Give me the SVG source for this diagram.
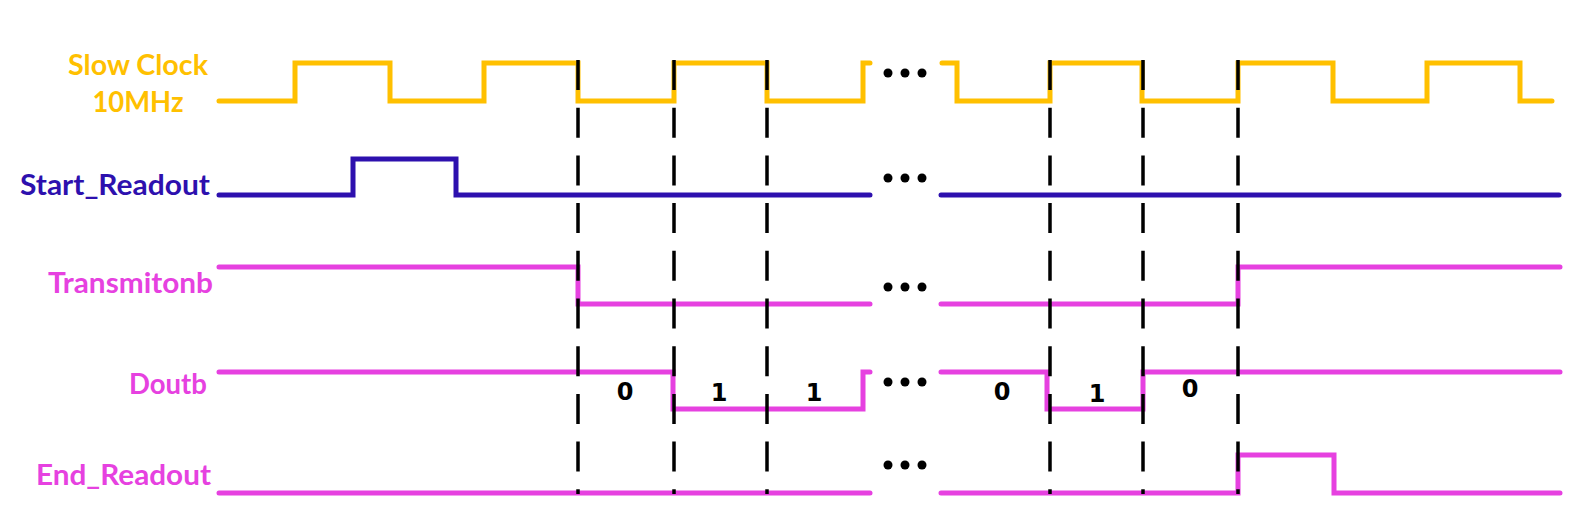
<svg xmlns="http://www.w3.org/2000/svg" width="1573" height="519" viewBox="0 0 1573 519">
<style>
.lbl{font-family:Lato,"Open Sans","Liberation Sans",sans-serif;font-weight:bold;font-size:28px}
.bit{font-family:"DejaVu Sans",Lato,sans-serif;font-weight:bold;font-size:24px;fill:#000;text-anchor:middle}
.sig{fill:none;stroke-width:5;stroke-linecap:round;stroke-linejoin:miter}
.clk{stroke:#FFC000}
.blu{stroke:#2D10AE}
.mag{stroke:#E641E0}
.dash{stroke:#000;stroke-width:3.5;stroke-dasharray:30 17.7;fill:none}
.dot{fill:#000}
</style>
<rect width="1573" height="519" fill="#fff"/>
<g id="slow-clock">
<text class="lbl" x="138" y="75" fill="#FFC000" text-anchor="middle" textLength="140" lengthAdjust="spacingAndGlyphs">Slow Clock</text>
<text class="lbl" x="138" y="112" fill="#FFC000" text-anchor="middle" textLength="91" lengthAdjust="spacingAndGlyphs">10MHz</text>
<path class="sig clk" d="M219,101 H295 V63 H390 V101 H484 V63 H578 V101 H674 V63 H767 V101 H863 V63 H870"/>
<path class="sig clk" d="M942,63 H957 V101 H1050 V63 H1142 V101 H1238 V63 H1333 V101 H1427 V63 H1520 V101 H1552"/>
</g>
<g id="start-readout">
<text class="lbl" x="210" y="195" fill="#2D10AE" text-anchor="end" textLength="190" lengthAdjust="spacingAndGlyphs">Start_Readout</text>
<path class="sig blu" d="M219,195 H353 V159 H456 V195 H870"/>
<path class="sig blu" d="M941,195 H1559"/>
</g>
<g id="transmitonb">
<text class="lbl" x="213" y="293" fill="#E641E0" text-anchor="end" textLength="165" lengthAdjust="spacingAndGlyphs">Transmitonb</text>
<path class="sig mag" d="M219,267 H578 V304 H870"/>
<path class="sig mag" d="M941,304 H1238 V267 H1560"/>
</g>
<g id="doutb">
<text class="lbl" x="207" y="394" fill="#E641E0" text-anchor="end" textLength="78" lengthAdjust="spacingAndGlyphs">Doutb</text>
<path class="sig mag" d="M219,372 H673 V409 H863 V372 H870"/>
<path class="sig mag" d="M941,372 H1047 V409 H1143 V372 H1560"/>
<text class="bit" x="625" y="400">0</text>
<text class="bit" x="719" y="401">1</text>
<text class="bit" x="814" y="401">1</text>
<text class="bit" x="1002" y="400">0</text>
<text class="bit" x="1097" y="402">1</text>
<text class="bit" x="1190" y="397">0</text>
</g>
<g id="end-readout">
<text class="lbl" x="211" y="485" fill="#E641E0" text-anchor="end" textLength="175" lengthAdjust="spacingAndGlyphs">End_Readout</text>
<path class="sig mag" d="M219,493 H870"/>
<path class="sig mag" d="M941,493 H1238 V455 H1334 V493 H1560"/>
</g>
<g id="ellipses">
<circle class="dot" cx="888" cy="73" r="4.5"/><circle class="dot" cx="905" cy="73" r="4.5"/><circle class="dot" cx="922" cy="73" r="4.5"/>
<circle class="dot" cx="888" cy="178" r="4.5"/><circle class="dot" cx="905" cy="178" r="4.5"/><circle class="dot" cx="922" cy="178" r="4.5"/>
<circle class="dot" cx="888" cy="287" r="4.5"/><circle class="dot" cx="905" cy="287" r="4.5"/><circle class="dot" cx="922" cy="287" r="4.5"/>
<circle class="dot" cx="888" cy="382" r="4.5"/><circle class="dot" cx="905" cy="382" r="4.5"/><circle class="dot" cx="922" cy="382" r="4.5"/>
<circle class="dot" cx="888" cy="465" r="4.5"/><circle class="dot" cx="905" cy="465" r="4.5"/><circle class="dot" cx="922" cy="465" r="4.5"/>
</g>
<g id="connectors">
<line class="dash" x1="578" y1="60" x2="578" y2="494"/>
<line class="dash" x1="674" y1="60" x2="674" y2="494"/>
<line class="dash" x1="767" y1="60" x2="767" y2="494"/>
<line class="dash" x1="1050" y1="60" x2="1050" y2="494"/>
<line class="dash" x1="1143" y1="60" x2="1143" y2="494"/>
<line class="dash" x1="1238" y1="60" x2="1238" y2="494"/>
</g>
</svg>
